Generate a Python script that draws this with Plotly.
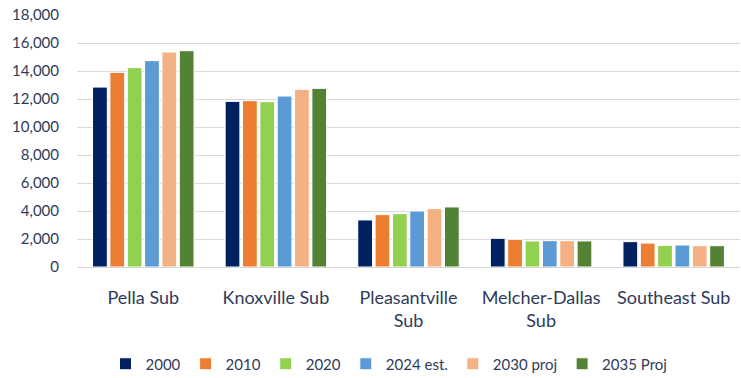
import plotly.graph_objects as go

categories = ["Pella Sub", "Knoxville Sub", "Pleasantville<br>Sub", "Melcher-Dallas<br>Sub", "Southeast Sub"]
series_names = ["2000", "2010", "2020", "2024 est.", "2030 proj", "2035 Proj"]
v2000 = [12850, 11830, 3360, 2050, 1810]
v2010 = [13900, 11880, 3740, 1980, 1710]
v2020 = [14240, 11810, 3810, 1860, 1550]
v2024 = [14740, 12210, 4000, 1880, 1570]
v2030 = [15360, 12690, 4170, 1880, 1520]
v2035 = [15450, 12760, 4290, 1860, 1520]
series_values = [v2000, v2010, v2020, v2024, v2030, v2035]
colors = ["#002060", "#ED7D31", "#92D050", "#5B9BD5", "#F4B183", "#548235"]

text_color = "#2F3B5A"
font_family = "Lato, Carlito, Liberation Sans, sans-serif"

fig = go.Figure()
for name, vals, col in zip(series_names, series_values, colors):
    fig.add_trace(go.Bar(
        x=categories, y=vals, name=name,
        marker=dict(color=col, line=dict(color="white", width=1)),
    ))

fig.update_layout(
    width=741, height=378,
    margin=dict(l=77, r=1, t=15, b=111),
    paper_bgcolor="white", plot_bgcolor="white",
    barmode="group", bargap=0.215, bargroupgap=0.15,
    font=dict(family=font_family, color=text_color, size=15),
    showlegend=True,
    legend=dict(
        orientation="h", xref="container", yref="container",
        x=0.525, xanchor="center", y=0.037, yanchor="middle",
        font=dict(size=15, color=text_color), itemwidth=30,
        traceorder="normal",
    ),
)
fig.update_xaxes(
    showline=False, showgrid=False,
    ticks="outside", ticklen=14, tickcolor="rgba(0,0,0,0)",
    tickfont=dict(size=18, color=text_color),
)
fig.update_yaxes(
    range=[0, 18000], dtick=2000, tickformat=",",
    showgrid=True, gridcolor="#D9D9D9", gridwidth=1,
    zeroline=True, zerolinecolor="#D9D9D9", zerolinewidth=1,
    showline=False, ticks="outside", ticklen=14, tickcolor="rgba(0,0,0,0)",
    tickfont=dict(size=15, color=text_color),
)

fig.write_html("out.html")
